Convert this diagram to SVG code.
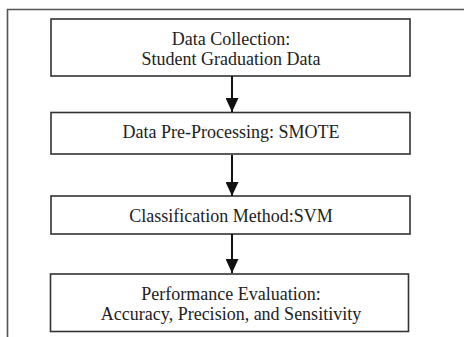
<svg xmlns="http://www.w3.org/2000/svg" width="464" height="337" viewBox="0 0 464 337">
<style>
.box{fill:#fff;stroke:#333;stroke-width:1.6}
.frame{fill:none;stroke:#555;stroke-width:1.6}
.t{font-family:"Liberation Serif","Times New Roman",serif;font-size:18px;fill:#222;text-anchor:middle}
.c{stroke:#111;stroke-width:2;fill:none}
</style>
<defs>
<marker id="ah" markerWidth="14" markerHeight="13" refX="14" refY="6.5" orient="auto" markerUnits="userSpaceOnUse">
<path d="M0,0 L14,6.5 L0,13 Z" fill="#111"/>
</marker>
</defs>
<rect width="464" height="337" fill="#fff"/>
<path class="frame" d="M7.5,337 V9.5 H464"/>
<g id="n1"><rect class="box" x="51" y="19" width="359" height="57"/>
<text class="t" x="231" y="45">Data Collection:</text>
<text class="t" x="231" y="65">Student Graduation Data</text></g>
<g id="n2"><rect class="box" x="51" y="112.5" width="359" height="41.5"/>
<text class="t" x="231" y="138">Data Pre-Processing: SMOTE</text></g>
<g id="n3"><rect class="box" x="51" y="196" width="359" height="38"/>
<text class="t" x="231" y="222">Classification Method:SVM</text></g>
<g id="n4"><rect class="box" x="50.5" y="274" width="358" height="57.5"/>
<text class="t" x="231" y="300">Performance Evaluation:</text>
<text class="t" x="231" y="320">Accuracy, Precision, and Sensitivity</text></g>
<g id="connectors">
<line class="c" x1="232" y1="76" x2="232" y2="112" marker-end="url(#ah)"/>
<line class="c" x1="232" y1="155" x2="232" y2="196" marker-end="url(#ah)"/>
<line class="c" x1="232" y1="234" x2="232" y2="273" marker-end="url(#ah)"/>
</g>
</svg>
